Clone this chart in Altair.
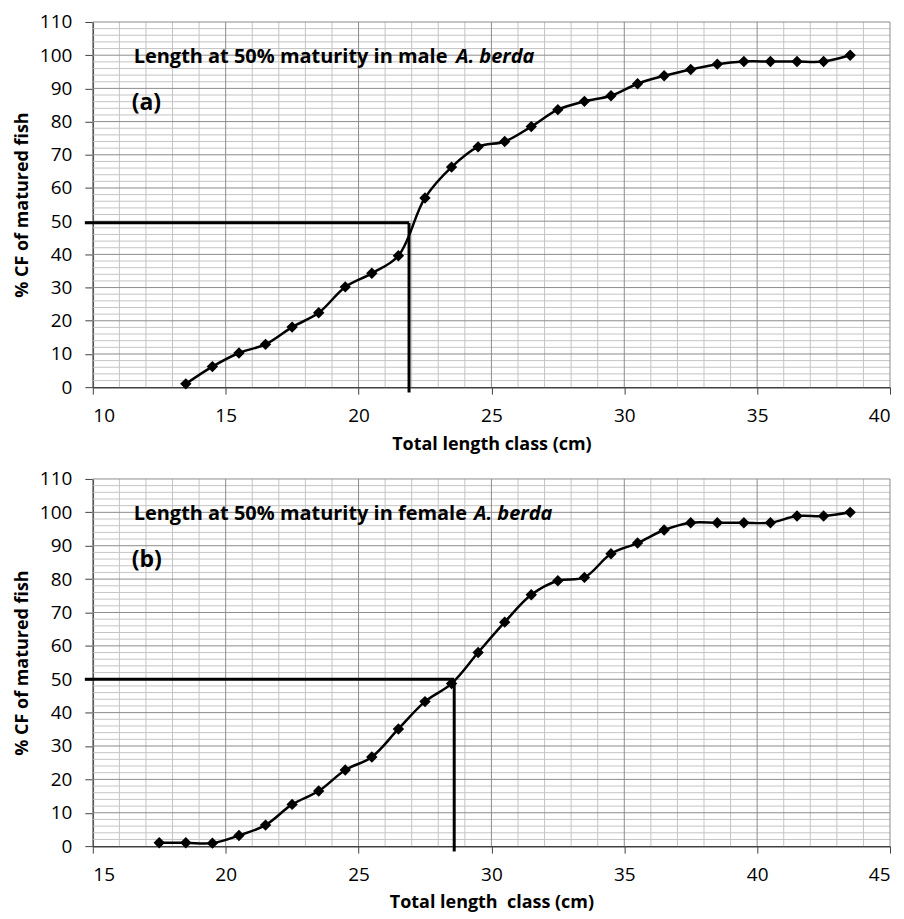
import altair as alt
import pandas as pd

# ---------------- data ----------------
male_len = [13.5, 14.5, 15.5, 16.5, 17.5, 18.5, 19.5, 20.5, 21.5, 22.5, 23.5, 24.5, 25.5,
            26.5, 27.5, 28.5, 29.5, 30.5, 31.5, 32.5, 33.5, 34.5, 35.5, 36.5, 37.5, 38.5]
male_cf = [1.0, 6.2, 10.3, 12.9, 18.1, 22.4, 30.2, 34.3, 39.6, 57.0, 66.3, 72.4, 74.0,
           78.5, 83.6, 86.1, 87.8, 91.4, 93.8, 95.7, 97.3, 98.1, 98.1, 98.1, 98.1, 100.0]

female_len = [17.5, 18.5, 19.5, 20.5, 21.5, 22.5, 23.5, 24.5, 25.5, 26.5, 27.5, 28.5, 29.5,
              30.5, 31.5, 32.5, 33.5, 34.5, 35.5, 36.5, 37.5, 38.5, 39.5, 40.5, 41.5, 42.5, 43.5]
female_cf = [1.0, 1.0, 0.9, 3.2, 6.3, 12.5, 16.5, 22.8, 26.7, 35.1, 43.3, 48.7, 58.0,
             67.1, 75.3, 79.5, 80.5, 87.6, 90.8, 94.7, 96.9, 96.9, 96.9, 96.9, 98.9, 98.9, 100.0]

male_l50 = [21.9, 49.5]     # length, %CF
female_l50 = [28.6, 50.0]

male_xdomain = [10, 40]
female_xdomain = [15, 45]
y_domain = [0, 110]

male_text = ["Length at 50% maturity in male", "A. berda", "(a)"]
female_text = ["Length at 50% maturity in female", "A. berda", "(b)"]

x_title_top = "Total length class (cm)"
x_title_bottom = "Total length\u00a0 class (cm)"
y_title = "% CF of matured fish"

FONT = "Open Sans"
W = 799


def panel(lengths, cf, xdom, l50, texts, xtitle, height, italic_dx):
    xs = alt.Scale(domain=xdom, nice=False, zero=False)
    ys = alt.Scale(domain=y_domain, nice=False)
    x_major = list(range(xdom[0], xdom[1] + 1, 5))
    x_minor = [v for v in range(xdom[0], xdom[1] + 1) if v % 5 != 0]
    y_major = list(range(0, 111, 10))
    y_minor = [v for v in range(0, 111, 2) if v % 10 != 0]

    xaxis = alt.Axis(values=x_major, grid=False, title=xtitle, tickSize=7,
                     tickColor="#404040", domainColor="#404040", domainWidth=1.5,
                     labelFontSize=19, labelFont=FONT, labelColor="black",
                     labelPadding=12, labelOverlap=False, titleFont=FONT, titleFontSize=18,
                     titleFontWeight="bold", titleColor="black", titlePadding=10)
    yaxis = alt.Axis(values=y_major, grid=False, title=y_title, tickSize=8,
                     tickColor="#404040", domainColor="#404040", domainWidth=1.5,
                     labelFontSize=19, labelFont=FONT, labelColor="black",
                     labelPadding=13, labelOverlap=False, titleFont=FONT, titleFontSize=18,
                     titleFontWeight="bold", titleColor="black", titlePadding=8)

    def X(f):
        return alt.X(f, type="quantitative", scale=xs, axis=xaxis)

    def Y(f):
        return alt.Y(f, type="quantitative", scale=ys, axis=yaxis)

    vminor = alt.Chart(pd.DataFrame({"x": x_minor})).mark_rule(
        color="#c4c4c4", strokeWidth=1).encode(x=X("x"))
    hminor = alt.Chart(pd.DataFrame({"y": y_minor})).mark_rule(
        color="#c4c4c4", strokeWidth=1).encode(y=Y("y"))
    vmajor = alt.Chart(pd.DataFrame({"x": x_major})).mark_rule(
        color="#8c8c8c", strokeWidth=1).encode(x=X("x"))
    hmajor = alt.Chart(pd.DataFrame({"y": y_major[1:]})).mark_rule(
        color="#8c8c8c", strokeWidth=1).encode(y=Y("y"))

    df = pd.DataFrame({"len": lengths, "cf": cf})
    line = alt.Chart(df).mark_line(color="black", strokeWidth=2.5,
                                   interpolate="catmull-rom").encode(
        x=X("len"), y=Y("cf"))
    pts = alt.Chart(df).mark_point(shape="diamond", filled=True, color="black",
                                   size=130, opacity=1).encode(
        x=X("len"), y=Y("cf"))

    l50df = pd.DataFrame({"x0": [xdom[0] - 0.3], "x": [l50[0]], "y": [l50[1]], "y0": [-1.6]})
    hline = alt.Chart(l50df).mark_rule(color="black", strokeWidth=3).encode(
        x=X("x0"), x2="x:Q", y=Y("y"))
    vline = alt.Chart(l50df).mark_rule(color="black", strokeWidth=3).encode(
        x=X("x"), y=Y("y0"), y2="y:Q")

    t1 = alt.Chart(pd.DataFrame({"t": [texts[0]]})).mark_text(
        font=FONT, fontSize=20, fontWeight="bold", align="left", baseline="alphabetic",
        color="black").encode(text="t:N", x=alt.value(41), y=alt.value(41))
    t2 = alt.Chart(pd.DataFrame({"t": [texts[1]]})).mark_text(
        font=FONT, fontSize=20, fontWeight="bold", fontStyle="italic", align="left",
        baseline="alphabetic", color="black").encode(
        text="t:N", x=alt.value(41 + italic_dx), y=alt.value(41))
    t3 = alt.Chart(pd.DataFrame({"t": [texts[2]]})).mark_text(
        font=FONT, fontSize=23, fontWeight="bold", align="left", baseline="middle",
        color="black").encode(text="t:N", x=alt.value(39), y=alt.value(81))

    return alt.layer(vminor, hminor, vmajor, hmajor, hline, vline, line, pts,
                     t1, t2, t3).properties(width=W, height=height)


top = panel(male_len, male_cf, male_xdomain, male_l50, male_text, x_title_top, 366, 323)
bottom = panel(female_len, female_cf, female_xdomain, female_l50, female_text,
               x_title_bottom, 368, 341)

chart = alt.vconcat(top, bottom, spacing=17).configure_view(
    stroke=None).properties(padding={"left": 5, "top": 4, "right": 5, "bottom": 5},
                            background="white")

chart.save("out.html", embed_options={"renderer": "svg", "actions": False})
